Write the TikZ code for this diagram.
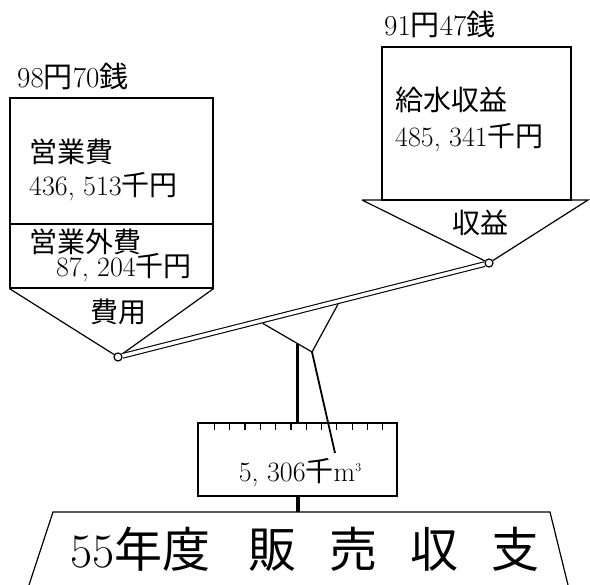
\documentclass[tikz,border=0pt]{standalone}
\usepackage{fontspec}
\newfontfamily\cjk{Noto Sans CJK JP}
\usetikzlibrary{positioning,calc}
\begin{document}
\begin{tikzpicture}[x=1pt,y=-1pt,
    frame/.style={line width=1.2pt},
    panbox/.style={draw,frame,inner sep=0pt},
    boxtext/.style={anchor=west,inner sep=0pt,font=\fontsize{28}{30}\selectfont},
    headtext/.style={anchor=west,inner sep=0pt,font=\fontsize{29}{31}\selectfont},
    pivot/.style={shape=circle,draw,fill=white,line width=1.2pt,minimum size=8pt,inner sep=0pt}]
    \useasboundingbox (0,0) rectangle (590,585);
    % cost side
    \node [headtext] (costprice) at (17,76) {98{\cjk 円}70{\cjk 銭}};
    \node [panbox, minimum width=203pt, minimum height=190pt] (costbox) at (111.5,193) {};
    \draw[frame] (costbox.west |- 0,224) -- (costbox.east |- 0,224);
    \node [boxtext] (opcost) at (29,152) {\cjk 営業費};
    \node [boxtext] (opcostval) at (29,187) {436, 513{\cjk 千円}};
    \node [boxtext] (nopcost) at (29,242) {\cjk 営業外費};
    \node [boxtext, anchor=east] (nopcostval) at (192,268) {87, 204{\cjk 千円}};
    \node [pivot] (lp) at (118,357) {};
    \draw[frame] (costbox.south west) -- (lp) -- (costbox.south east);
    \node [boxtext, anchor=center] (cost) at (118,312) {\cjk 費用};
    % revenue side
    \node [headtext] (revprice) at (384,24) {91{\cjk 円}47{\cjk 銭}};
    \node [panbox, minimum width=189pt, minimum height=153pt] (revbox) at (476.5,123.5) {};
    \node [boxtext] (water) at (395,100) {\cjk 給水収益};
    \node [boxtext] (waterval) at (395,138) {485, 341{\cjk 千円}};
    \coordinate (rl) at (362,200);
    \coordinate (rr) at (588,200);
    \node [pivot] (rp) at (489,263) {};
    \draw[frame] (rl) -- (rr) -- (rp) -- (rl);
    \node [boxtext, anchor=center] (rev) at (480,223) {\cjk 収益};
    % beam and fulcrum
    \draw[double, line width=1.1pt, double distance=3.5pt] (lp) -- (rp);
    \coordinate (fl) at ($(lp)!0.39!(rp)+(0,3)$);
    \coordinate (fr) at ($(lp)!0.593!(rp)+(0,3)$);
    \coordinate (fa) at (312,352);
    \draw[frame] (fl) -- (fa) -- (fr);
    % scale
    \node [panbox, minimum width=199pt, minimum height=73pt] (scale) at (297.5,459.5) {};
    \foreach \i in {0,...,11}
      \draw[frame] ($(scale.north west)+(17+\i*15.3,0)$) -- ++(0,8);
    \node [boxtext, anchor=center] (volume) at (300,473) {5, 306{\cjk 千}m{\fontsize{12}{12}\selectfont\raisebox{10pt}{3}}};
    \coordinate (ft) at (297.5,344);
    \draw[line width=3.5pt] (ft) -- (scale.north);
    \coordinate (needle) at (335,453);
    \draw[line width=1.8pt] (fa) -- (needle);
    % base
    \coordinate (bt) at (297.5,512);
    \draw[line width=4pt] (scale.south) -- (bt);
    \draw[frame] (29,585) -- (53,512) -- (550,512) -- (568,585);
    \node [anchor=center, inner sep=0pt, font=\fontsize{48}{52}\selectfont] (title) at (305,549)
      {55{\cjk 年度}\hspace{38pt}{\cjk 販}\hspace{33pt}{\cjk 売}\hspace{33pt}{\cjk 収}\hspace{33pt}{\cjk 支}};
\end{tikzpicture}
\end{document}
